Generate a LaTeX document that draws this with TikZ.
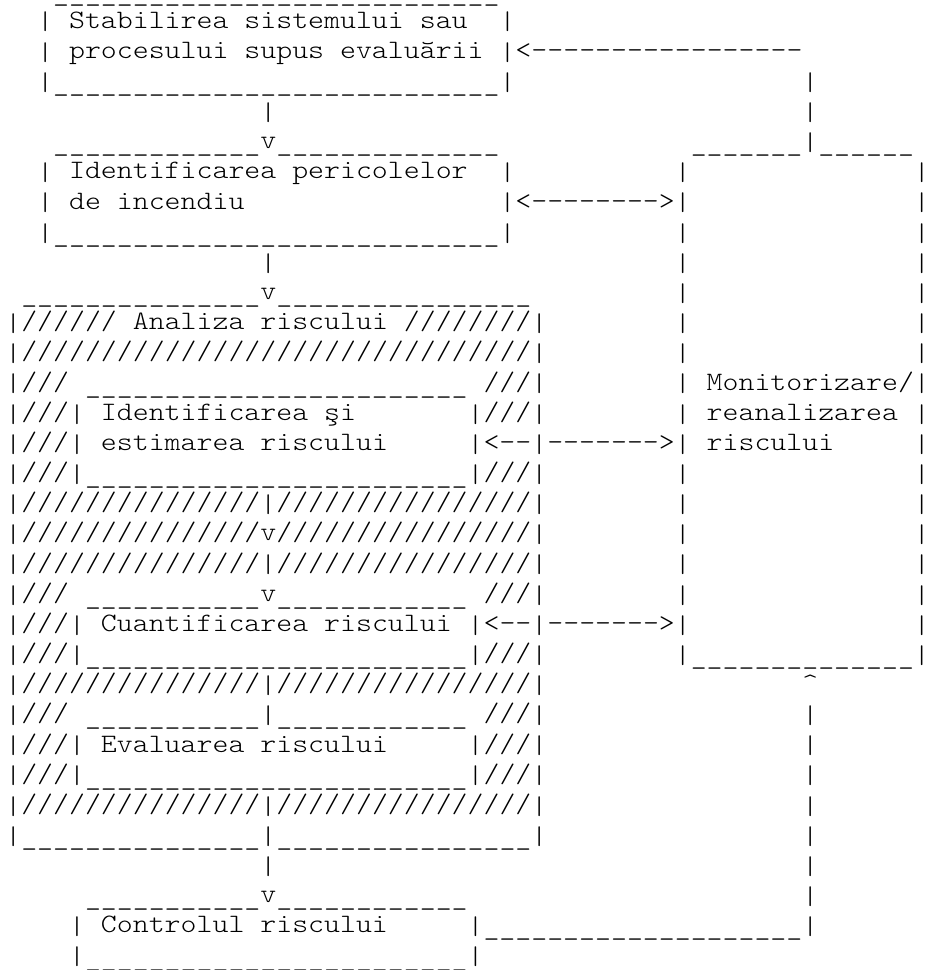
\documentclass[tikz,border=0pt]{standalone}
\usepackage{fontspec}
\usepackage{graphicx}
\newfontfamily\ascfont{lmmonolt10-regular.otf}[FakeStretch=1.1429]
\ExplSyntaxOn
\cs_new:Npn \myrep #1 #2 { \prg_replicate:nn {#1} {#2} }
\ExplSyntaxOff
\newcommand{\usc}[1]{\raisebox{-3pt}{\myrep{#1}{\_}}}
\newcommand{\slc}[1]{\myrep{#1}{/}}
\newcommand{\dsc}[1]{\myrep{#1}{-}}
\newcommand{\barglyph}{\raisebox{-4pt}{\resizebox*{!}{20pt}{\raisebox{\depth}{|}}}}
\newcommand{\br}{\makebox[15.94pt]{\barglyph}}
\newcommand{\brn}{\makebox[8pt]{\barglyph}}
\tikzset{asc/.style={anchor=base west, inner sep=0pt, outer sep=0pt, text=black,
  font=\ascfont\fontsize{26.57pt}{30pt}\selectfont}}
\newcommand{\ascline}[4]{\node[asc] (#1) at ({5.33+15.94*(#2)},{2-30.16*(#3-1)}) {#4};}
\newcommand{\ascbar}[3]{\node[asc, anchor=base] (#1) at ({13.3+15.94*(#2)},{2-30.16*(#3-1)}) {\brn};}
\begin{document}
\begin{tikzpicture}[x=1pt,y=1pt]
\fill[white] (0,0) rectangle (926,-970);
\useasboundingbox (0,0) rectangle (926,-970);
\node[asc] (a1) at ({5.33+15.94*3},-0.2) {\raisebox{-1pt}{\myrep{28}{\_}}};
\ascline{a2}{2}{2}{\br~Stabilirea~sistemului~sau~~\br}
\ascline{a3}{2}{3}{\br~procesului~supus~evaluării~\br<\dsc{17}}
\ascline{a4}{2}{4}{\br\usc{28}\br}
\ascbar{b4}{50}{4}
\ascbar{a5}{16}{5}
\ascbar{b5}{50}{5}
\ascline{a6}{3}{6}{\usc{13}v\usc{14}}
\ascline{b6}{43}{6}{\usc{7}\br\usc{6}}
\ascline{a7}{2}{7}{\br~Identificarea~pericolelor~~\br}
\ascbar{b7}{42}{7}
\ascbar{c7}{57}{7}
\ascline{a8}{2}{8}{\br~de~incendiu}
\ascline{b8}{31}{8}{\br<\dsc{8}>\br}
\ascbar{c8}{57}{8}
\ascline{a9}{2}{9}{\br\usc{28}\br}
\ascbar{b9}{42}{9}
\ascbar{c9}{57}{9}
\ascbar{a10}{16}{10}
\ascbar{b10}{42}{10}
\ascbar{c10}{57}{10}
\ascline{a11}{1}{11}{\usc{15}v\usc{16}}
\ascbar{b11}{42}{11}
\ascbar{c11}{57}{11}
\ascline{a12}{0}{12}{\br\slc{6}~Analiza~riscului~\slc{8}\br}
\ascbar{b12}{42}{12}
\ascbar{c12}{57}{12}
\ascline{a13}{0}{13}{\br\slc{32}\br}
\ascbar{b13}{42}{13}
\ascbar{c13}{57}{13}
\ascline{a14}{0}{14}{\br///}
\ascline{b14}{5}{14}{\usc{24}}
\ascline{c14}{30}{14}{///\br}
\ascline{d14}{42}{14}{\br~Monitorizare/}
\ascbar{e14}{57}{14}
\ascline{a15}{0}{15}{\br///\br~Identificarea~şi}
\ascline{b15}{29}{15}{\br///\br}
\ascline{c15}{42}{15}{\br~reanalizarea}
\ascbar{d15}{57}{15}
\ascline{a16}{0}{16}{\br///\br~estimarea~riscului}
\ascline{b16}{29}{16}{\br<\dsc{2}\br\dsc{7}>\br}
\ascline{c16}{44}{16}{riscului}
\ascbar{d16}{57}{16}
\ascline{a17}{0}{17}{\br///\br\usc{24}\br///\br}
\ascbar{b17}{42}{17}
\ascbar{c17}{57}{17}
\ascline{a18}{0}{18}{\br\slc{15}\br\slc{16}\br}
\ascbar{b18}{42}{18}
\ascbar{c18}{57}{18}
\ascline{a19}{0}{19}{\br\slc{15}v\slc{16}\br}
\ascbar{b19}{42}{19}
\ascbar{c19}{57}{19}
\ascline{a20}{0}{20}{\br\slc{15}\br\slc{16}\br}
\ascbar{b20}{42}{20}
\ascbar{c20}{57}{20}
\ascline{a21}{0}{21}{\br///}
\ascline{b21}{5}{21}{\usc{11}v\usc{12}}
\ascline{c21}{30}{21}{///\br}
\ascbar{d21}{42}{21}
\ascbar{e21}{57}{21}
\ascline{a22}{0}{22}{\br///\br~Cuantificarea~riscului~\br<\dsc{2}\br\dsc{7}>\br}
\ascbar{b22}{57}{22}
\ascline{a23}{0}{23}{\br///\br\usc{24}\br///\br}
\ascline{b23}{42}{23}{\br\usc{14}}
\ascbar{c23}{57}{23}
\ascline{a24}{0}{24}{\br\slc{15}\br\slc{16}\br}
\ascline{b24}{50}{24}{\textasciicircum}
\ascline{a25}{0}{25}{\br///}
\ascline{b25}{5}{25}{\usc{11}\br\usc{12}}
\ascline{c25}{30}{25}{///\br}
\ascbar{d25}{50}{25}
\ascline{a26}{0}{26}{\br///\br~Evaluarea~riscului}
\ascline{b26}{29}{26}{\br///\br}
\ascbar{c26}{50}{26}
\ascline{a27}{0}{27}{\br///\br\usc{24}\br///\br}
\ascbar{b27}{50}{27}
\ascline{a28}{0}{28}{\br\slc{15}\br\slc{16}\br}
\ascbar{b28}{50}{28}
\ascline{a29}{0}{29}{\br\usc{15}\br\usc{16}\br}
\ascbar{b29}{50}{29}
\ascbar{a30}{16}{30}
\ascbar{b30}{50}{30}
\ascline{a31}{5}{31}{\usc{11}v\usc{12}}
\ascbar{b31}{50}{31}
\ascline{a32}{4}{32}{\br~Controlul~riscului}
\ascline{b32}{29}{32}{\br\usc{20}\br}
\ascline{a33}{4}{33}{\br\usc{24}\br}
\end{tikzpicture}
\end{document}
